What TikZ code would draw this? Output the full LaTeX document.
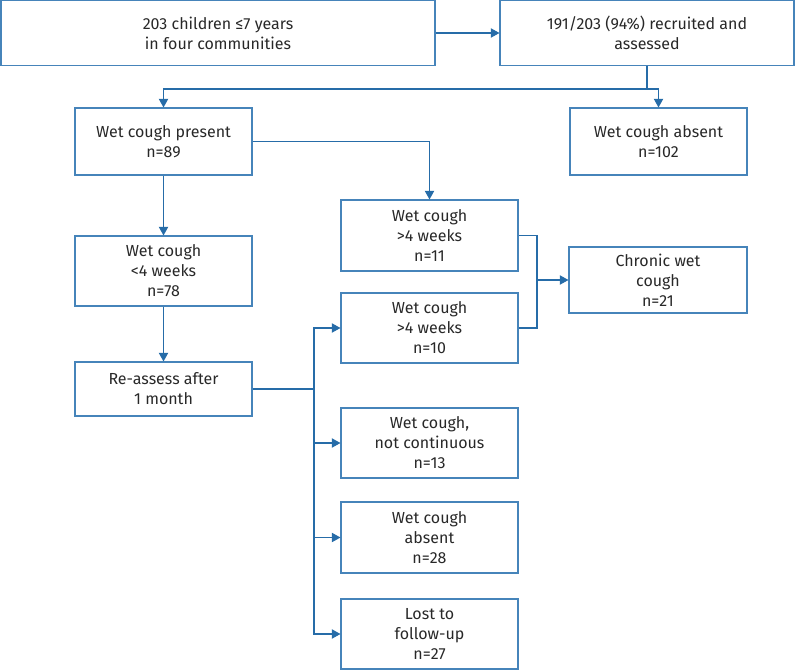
\documentclass[tikz,border=0pt]{standalone}
\usepackage{fontspec}
\setmainfont{Fira Sans}
\usetikzlibrary{arrows.meta}
\definecolor{flowblue}{RGB}{38,108,168}
\definecolor{boxblue}{RGB}{70,132,186}
\definecolor{txtgray}{RGB}{40,40,40}
\tikzset{
	stage/.style={draw=boxblue, line width=0.8pt, align=center, text=txtgray,
		font=\fontsize{12}{15}\selectfont, inner sep=0pt, minimum width=#1*0.75pt},
	stage/.default=177,
	flow/.style={draw=flowblue, line width=0.85pt},
	flowarr/.style={flow, -{Triangle[length=6.5pt,width=7pt]}}
}
\begin{document}
\begin{tikzpicture}[x=0.75pt, y=-0.75pt]
	\useasboundingbox (0,0) rectangle (795,671);
	
	%Top row
	\node[stage=434, minimum height=65*0.75pt] (enrol) at (218,33) {203 children ≤7 years\\in four communities};
	\node[stage=294, minimum height=65*0.75pt] (recruit) at (647,33) {191/203 (94\%) recruited and\\assessed};
	
	%First assessment
	\node[stage, minimum height=67*0.75pt] (present) at (163.5,141.5) {Wet cough present\\n=89};
	\node[stage, minimum height=67*0.75pt] (absent) at (658.5,141.5) {Wet cough absent\\n=102};
	
	%Duration of wet cough
	\node[stage, minimum height=71*0.75pt] (longA) at (429.5,235.5) {Wet cough\\>4 weeks\\n=11};
	\node[stage, minimum height=70*0.75pt] (short) at (163.5,271) {Wet cough\\<4 weeks\\n=78};
	\node[stage=178, minimum height=66*0.75pt] (chronic) at (658,280) {Chronic wet\\cough\\n=21};
	
	%Follow-up after one month
	\node[stage, minimum height=54*0.75pt] (reassess) at (163.5,389) {Re-assess after\\1 month};
	\node[stage, minimum height=70*0.75pt] (longB) at (429.5,328) {Wet cough\\>4 weeks\\n=10};
	\node[stage, minimum height=70*0.75pt] (notcont) at (429.5,443) {Wet cough,\\not continuous\\n=13};
	\node[stage, minimum height=71*0.75pt] (gone) at (429.5,537.5) {Wet cough\\absent\\n=28};
	\node[stage, minimum height=70*0.75pt] (lost) at (429.5,634) {Lost to\\follow-up\\n=27};
	
	%Split points
	\coordinate (split1) at (647,89);
	\coordinate (split2) at (314,389);
	\coordinate (join) at (537,280);
	
	%Connectors
	\draw[flowarr] (enrol) -- (recruit);
	\draw[flow] (recruit) -- (split1);
	\draw[flowarr] (split1) -| (present);
	\draw[flowarr] (split1) -| (absent);
	\draw[flowarr] (present.east) -| (longA);
	\draw[flowarr] (present) -- (short);
	\draw[flowarr] (short) -- (reassess);
	\draw[flow] (reassess) -- (split2);
	\foreach \n in {longB, notcont, gone, lost}
		\draw[flowarr] (split2) |- (\n);
	\draw[flow] (longA) -| (join);
	\draw[flow] (longB) -| (join);
	\draw[flowarr] (join) -- (chronic);
\end{tikzpicture}
\end{document}
